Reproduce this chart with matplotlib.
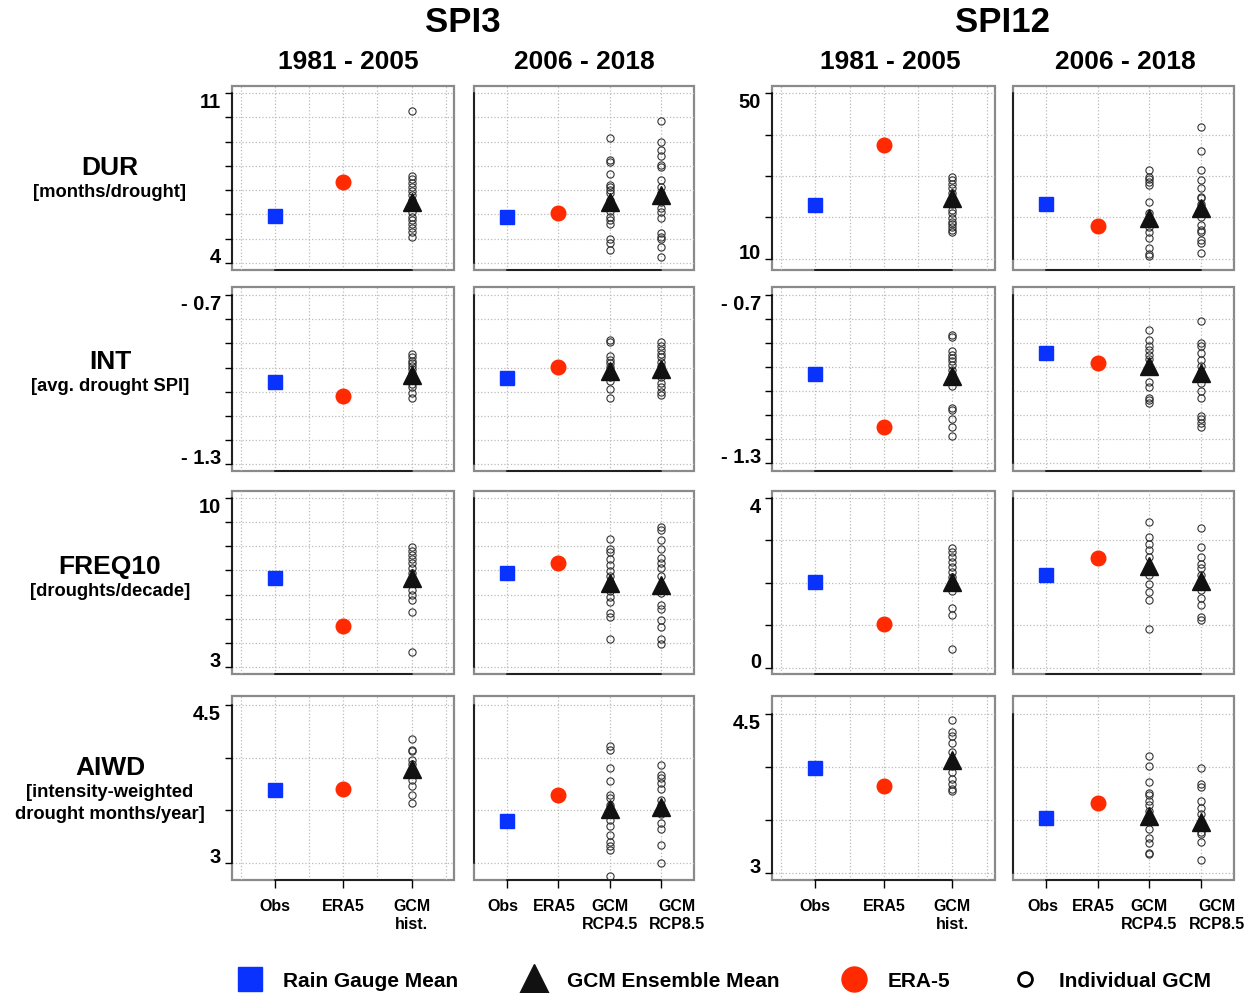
import numpy as np
import matplotlib.pyplot as plt
from matplotlib.patches import Rectangle
from matplotlib.lines import Line2D
from matplotlib.ticker import MultipleLocator
from matplotlib.transforms import ScaledTranslation

plt.rcParams['font.family'] = ['Liberation Sans', 'DejaVu Sans']
plt.rcParams['font.weight'] = 'bold'

hist_labels = ['Obs', 'ERA5', 'GCM\nhist.']
future_labels = ['Obs', 'ERA5', 'GCM\nRCP4.5', 'GCM\nRCP8.5']

# ---- DUR [months/drought] ----
# obs / era5 -> (1981-2005, 2006-2018); ens -> (hist, rcp4.5, rcp8.5)
dur_spi3_obs = [5.94, 5.87]
dur_spi3_era5 = [7.35, 6.04]
dur_spi3_ens = [6.52, 6.52, 6.80]
dur_spi3_hist = [10.27, 7.60, 7.46, 7.31, 7.14, 6.98, 6.80, 6.59, 6.31, 6.11,
                 5.90, 5.76, 5.60, 5.42, 5.28, 5.07]
dur_spi3_rcp45 = [9.14, 8.24, 8.18, 7.67, 7.21, 7.11, 7.00, 6.87, 6.59, 6.34,
                  6.15, 5.90, 5.76, 5.60, 4.96, 4.80, 4.52]
dur_spi3_rcp85 = [9.87, 8.99, 8.66, 8.41, 8.04, 7.97, 7.42, 7.14, 6.87, 6.52,
                  6.25, 6.11, 5.83, 5.21, 5.07, 4.96, 4.66, 4.25]

dur_spi12_obs = [22.9, 23.3]
dur_spi12_era5 = [37.5, 18.0]
dur_spi12_ens = [24.6, 19.8, 22.2]
dur_spi12_hist = [29.9, 29.1, 28.1, 27.1, 25.9, 24.6, 23.3, 21.8, 21.0, 19.8,
                  19.0, 18.5, 17.8, 17.0, 16.4]
dur_spi12_rcp45 = [31.6, 29.9, 29.2, 28.7, 27.9, 23.7, 21.0, 19.4, 17.8, 16.6,
                   15.0, 12.6, 11.2, 10.6]
dur_spi12_rcp85 = [42.0, 36.2, 31.6, 29.1, 27.1, 25.0, 24.6, 23.3, 21.0, 20.2,
                   18.2, 17.0, 16.4, 14.6, 13.8, 11.4]

# ---- INT [avg. drought SPI] ----
int_spi3_obs = [-1.009, -0.993]
int_spi3_era5 = [-1.058, -0.956]
int_spi3_ens = [-0.983, -0.968, -0.963]
int_spi3_hist = [-0.909, -0.921, -0.933, -0.942, -0.952, -0.963, -0.978, -0.989,
                 -1.001, -1.015, -1.027, -1.048, -1.066]
int_spi3_rcp45 = [-0.859, -0.867, -0.916, -0.930, -0.942, -0.956, -0.972, -0.989,
                  -1.004, -1.034, -1.063]
int_spi3_rcp85 = [-0.867, -0.881, -0.895, -0.909, -0.921, -0.936, -0.952, -0.968,
                  -0.989, -1.013, -1.027, -1.042, -1.054]

int_spi12_obs = [-0.981, -0.907]
int_spi12_era5 = [-1.170, -0.942]
int_spi12_ens = [-0.989, -0.954, -0.978]
int_spi12_hist = [-0.842, -0.850, -0.901, -0.913, -0.924, -0.936, -0.952, -0.968,
                  -0.983, -0.999, -1.025, -1.102, -1.110, -1.143, -1.172, -1.204]
int_spi12_rcp45 = [-0.826, -0.862, -0.883, -0.897, -0.913, -0.930, -0.960, -0.972,
                   -1.011, -1.027, -1.066, -1.074, -1.086]
int_spi12_rcp85 = [-0.794, -0.873, -0.883, -0.909, -0.933, -0.954, -0.975, -0.992,
                   -1.015, -1.042, -1.066, -1.131, -1.143, -1.157, -1.169]

# ---- FREQ10 [droughts/decade] ----
freq_spi3_obs = [6.69, 6.91]
freq_spi3_era5 = [4.71, 7.29]
freq_spi3_ens = [6.69, 6.50, 6.39]
freq_spi3_hist = [7.97, 7.80, 7.63, 7.46, 7.29, 7.11, 6.91, 6.53, 6.18, 5.98,
                  5.77, 5.29, 3.63]
freq_spi3_rcp45 = [8.32, 7.91, 7.77, 7.46, 7.22, 6.97, 6.78, 6.53, 6.14, 5.91,
                   5.70, 5.22, 5.08, 4.16]
freq_spi3_rcp85 = [8.80, 8.66, 8.25, 7.91, 7.52, 7.33, 7.11, 6.78, 6.05, 5.56,
                   5.40, 4.94, 4.67, 4.16, 3.94]

freq_spi12_obs = [2.02, 2.18]
freq_spi12_era5 = [1.02, 2.59]
freq_spi12_ens = [2.02, 2.40, 2.04]
freq_spi12_hist = [2.81, 2.73, 2.61, 2.49, 2.38, 2.26, 2.14, 1.95, 1.80, 1.41,
                   1.24, 0.43]
freq_spi12_rcp45 = [3.42, 3.08, 2.90, 2.77, 2.61, 2.38, 2.18, 1.96, 1.79, 1.59, 0.91]
freq_spi12_rcp85 = [3.28, 2.83, 2.61, 2.45, 2.35, 2.18, 1.98, 1.83, 1.65, 1.47,
                    1.20, 1.12]

# ---- AIWD [intensity-weighted drought months/year] ----
aiwd_spi3_obs = [3.69, 3.40]
aiwd_spi3_era5 = [3.70, 3.65]
aiwd_spi3_ens = [3.89, 3.51, 3.53]
aiwd_spi3_hist = [4.18, 4.07, 4.06, 3.98, 3.94, 3.87, 3.79, 3.73, 3.65, 3.57]
aiwd_spi3_rcp45 = [4.11, 4.07, 3.90, 3.78, 3.65, 3.62, 3.55, 3.41, 3.35, 3.27,
                   3.20, 3.16, 3.12, 2.88]
aiwd_spi3_rcp85 = [3.93, 3.84, 3.81, 3.76, 3.70, 3.60, 3.55, 3.47, 3.38, 3.32,
                   3.17, 3.00]

aiwd_spi12_obs = [3.99, 3.52]
aiwd_spi12_era5 = [3.82, 3.66]
aiwd_spi12_ens = [4.07, 3.54, 3.48]
aiwd_spi12_hist = [4.45, 4.33, 4.30, 4.23, 4.14, 4.06, 4.01, 3.96, 3.89, 3.84,
                   3.80, 3.78]
aiwd_spi12_rcp45 = [4.11, 4.01, 3.86, 3.76, 3.74, 3.68, 3.64, 3.59, 3.49, 3.42,
                    3.33, 3.29, 3.19, 3.18]
aiwd_spi12_rcp85 = [3.99, 3.84, 3.81, 3.68, 3.62, 3.56, 3.46, 3.39, 3.37, 3.30, 3.13]

row_titles = ['DUR', 'INT', 'FREQ10', 'AIWD']
row_units = ['[months/drought]', '[avg. drought SPI]', '[droughts/decade]',
             '[intensity-weighted\ndrought months/year]']

blue = '#0a32ff'
red = '#ff2a00'

# rows x (spi3, spi12): data, y ticks, end labels, y limits
rows = [
    [(dur_spi3_obs, dur_spi3_era5, dur_spi3_ens, [dur_spi3_hist, dur_spi3_rcp45, dur_spi3_rcp85],
      np.arange(4, 12), ['4', '11'], (3.7, 11.3)),
     (dur_spi12_obs, dur_spi12_era5, dur_spi12_ens, [dur_spi12_hist, dur_spi12_rcp45, dur_spi12_rcp85],
      np.arange(10, 51, 10), ['10', '50'], (7.3, 51.8))],
    [(int_spi3_obs, int_spi3_era5, int_spi3_ens, [int_spi3_hist, int_spi3_rcp45, int_spi3_rcp85],
      np.linspace(-1.3, -0.7, 8), ['- 1.3', '- 0.7'], (-1.323, -0.672)),
     (int_spi12_obs, int_spi12_era5, int_spi12_ens, [int_spi12_hist, int_spi12_rcp45, int_spi12_rcp85],
      np.linspace(-1.3, -0.7, 8), ['- 1.3', '- 0.7'], (-1.327, -0.673))],
    [(freq_spi3_obs, freq_spi3_era5, freq_spi3_ens, [freq_spi3_hist, freq_spi3_rcp45, freq_spi3_rcp85],
      np.arange(3, 11), ['3', '10'], (2.7, 10.3)),
     (freq_spi12_obs, freq_spi12_era5, freq_spi12_ens, [freq_spi12_hist, freq_spi12_rcp45, freq_spi12_rcp85],
      np.arange(0, 5), ['0', '4'], (-0.15, 4.16))],
    [(aiwd_spi3_obs, aiwd_spi3_era5, aiwd_spi3_ens, [aiwd_spi3_hist, aiwd_spi3_rcp45, aiwd_spi3_rcp85],
      np.arange(3, 4.6, 0.5), ['3', '4.5'], (2.84, 4.585)),
     (aiwd_spi12_obs, aiwd_spi12_era5, aiwd_spi12_ens, [aiwd_spi12_hist, aiwd_spi12_rcp45, aiwd_spi12_rcp85],
      np.arange(3, 4.6, 0.5), ['3', '4.5'], (2.937, 4.673))],
]

W, H = 1255, 993
col_x = [(232, 454), (474, 694), (772, 995), (1013, 1234)]
row_y = [(86, 270), (287, 471), (491, 674), (696, 880)]
# small horizontal nudges (px) of the category labels in the future panels
future_label_shift = [-4, -4, 0, 16]


def draw_panel(fig, ax, labels, obs, era5, ens, gcms, yticks, ends, ylim, first, bottom_row):
    n = len(labels)
    x = np.arange(1, n + 1)
    if n == 3:
        ax.set_xlim(0.37, 3.62)
        ax.xaxis.set_minor_locator(MultipleLocator(0.5))
    else:
        ax.set_xlim(0.35, 4.65)
    ax.set_ylim(*ylim)

    for xi, vals in zip(x[2:], gcms):
        ax.plot(np.full(len(vals), xi), vals, 'o', mfc='none', mec='#333333',
                ms=5.2, mew=0.8, zorder=3)
    ax.plot(x[2:], ens, '^', color='#111111', ms=13, zorder=4)
    ax.plot([x[0]], [obs], 's', color=blue, ms=10, zorder=4)
    ax.plot([x[1]], [era5], 'o', color=red, ms=10.5, zorder=4)

    ax.set_xticks(x)
    ax.set_yticks(yticks)
    ax.grid(which='both', ls=':', color='#bbbbbb', lw=0.9)
    ax.tick_params(which='minor', length=0)
    ax.set_axisbelow(True)

    for s in ['top', 'right']:
        ax.spines[s].set_visible(False)
    ax.spines['left'].set_bounds(yticks[0], yticks[-1])
    ax.spines['bottom'].set_bounds(x[0], x[-1])
    ax.spines['left'].set_linewidth(1.1)
    ax.spines['bottom'].set_linewidth(1.1)
    ax.add_patch(Rectangle((0, 0), 1, 1, transform=ax.transAxes, fill=False,
                           edgecolor='#8a8a8a', lw=1.6, clip_on=False, zorder=0))

    if first:
        ax.set_yticklabels([ends[0]] + [''] * (len(yticks) - 2) + [ends[1]])
        ax.tick_params(axis='y', length=5, width=1, pad=3, labelsize=14.5)
        labs = ax.get_yticklabels()
        labs[0].set_verticalalignment('baseline')
        labs[-1].set_verticalalignment('top')
    else:
        ax.tick_params(axis='y', length=0, labelleft=False)

    if bottom_row:
        ax.set_xticklabels(labels, fontsize=11.5, linespacing=1.25)
        ax.tick_params(axis='x', length=6, width=1, pad=8)
        if n == 4:
            for lab, dx in zip(ax.get_xticklabels(), future_label_shift):
                lab.set_transform(lab.get_transform() +
                                  ScaledTranslation(dx / 100, 0, fig.dpi_scale_trans))
    else:
        ax.tick_params(axis='x', length=0, labelbottom=False)


fig = plt.figure(figsize=(W / 100, H / 100), dpi=100)

for r in range(4):
    for c in range(4):
        x0, x1 = col_x[c]
        y0, y1 = row_y[r]
        ax = fig.add_axes([x0 / W, 1 - y1 / H, (x1 - x0) / W, (y1 - y0) / H])
        obs, era5, ens, gcms, yticks, ends, ylim = rows[r][c // 2]
        future = c % 2 == 1
        labels = future_labels if future else hist_labels
        draw_panel(fig, ax, labels, obs[1 if future else 0], era5[1 if future else 0],
                   ens[1:] if future else ens[:1], gcms[1:] if future else gcms[:1],
                   yticks, ends, ylim, first=not future, bottom_row=(r == 3))

# headers
fig.text(463 / W, 1 - 23 / H, 'SPI3', ha='center', va='center', fontsize=25)
fig.text(1003 / W, 1 - 23 / H, 'SPI12', ha='center', va='center', fontsize=25)
for xc, t in zip([348, 584, 890, 1125], ['1981 - 2005', '2006 - 2018'] * 2):
    fig.text(xc / W, 1 - 62 / H, t, ha='center', va='center', fontsize=19)

# row labels
for title, unit, yc in zip(row_titles, row_units, [168, 362, 567, 768]):
    fig.text(110 / W, 1 - yc / H, title, ha='center', va='center', fontsize=19)
    fig.text(110 / W, 1 - (yc + 16) / H, unit, ha='center', va='top', fontsize=13.2,
             linespacing=1.4)

handles = [
    Line2D([], [], marker='s', color=blue, ls='none', ms=17),
    Line2D([], [], marker='^', color='#111111', ls='none', ms=21),
    Line2D([], [], marker='o', color=red, ls='none', ms=18),
    Line2D([], [], marker='o', mfc='none', mec='black', mew=2, ls='none', ms=10),
]
fig.legend(handles, ['Rain Gauge Mean', 'GCM Ensemble Mean', 'ERA-5', 'Individual GCM'],
           loc='center', bbox_to_anchor=(0.577, 0.012), ncol=4, frameon=False,
           fontsize=15.0, columnspacing=3.0, handlelength=1.2, handletextpad=1.0)

fig.savefig('out.png', dpi=100)
